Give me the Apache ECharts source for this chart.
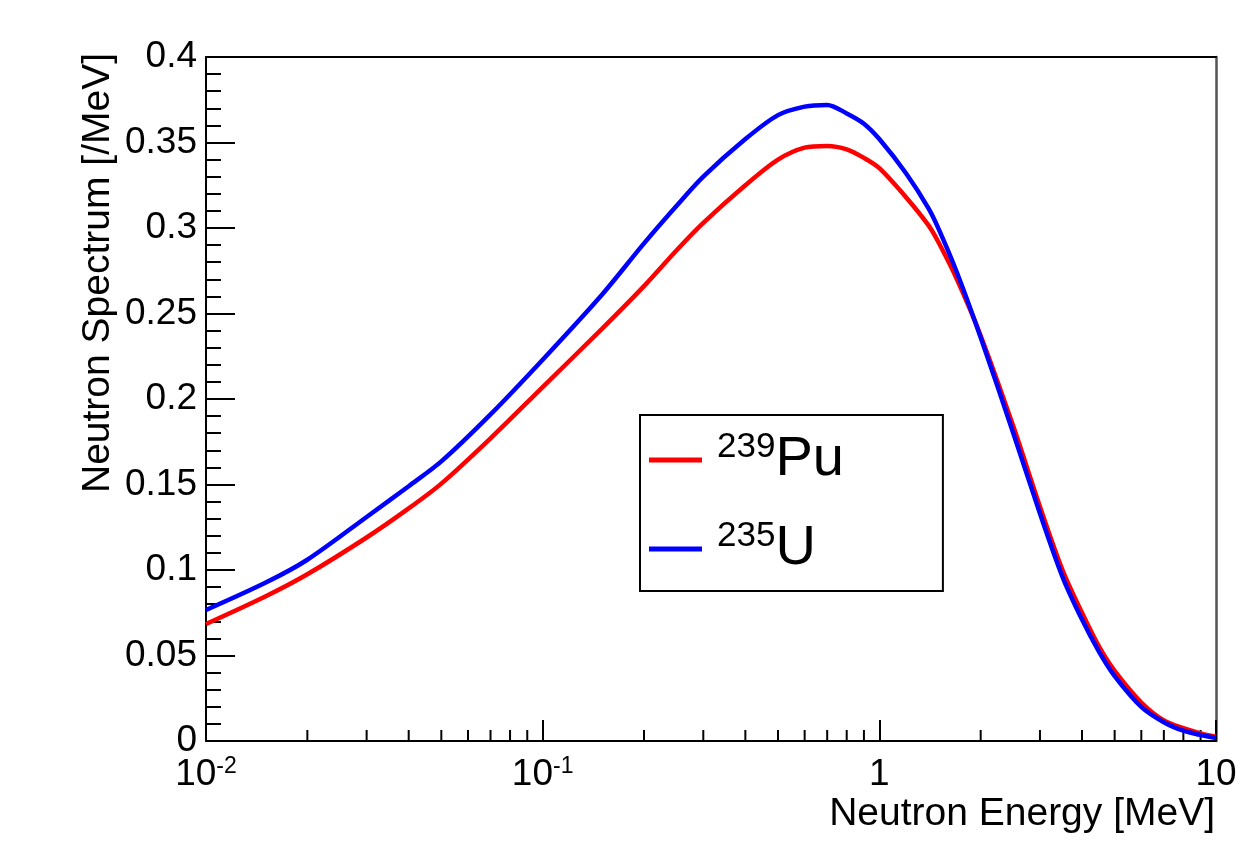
<!DOCTYPE html>
<html>
<head>
<meta charset="utf-8">
<script src="https://cdn.jsdelivr.net/npm/echarts@6/dist/echarts.min.js"></script>
<style>
html,body{margin:0;padding:0;background:#fff;}
#chart{width:1258px;height:858px;}
</style>
</head>
<body>
<div id="chart"></div>
<script>
// ---- data ----
const energy = [0.01, 0.015, 0.02, 0.03, 0.04, 0.05, 0.07, 0.1, 0.15, 0.2, 0.25, 0.3, 0.4, 0.5, 0.6, 0.7, 0.8, 0.9, 1, 1.2, 1.4, 1.5, 1.7, 2, 2.5, 3, 3.5, 4, 4.5, 5, 6, 7, 8, 9, 10];
const spectrumPu239 = [0.0684, 0.0845, 0.0975, 0.119, 0.136, 0.1505, 0.177, 0.207, 0.241, 0.266, 0.287, 0.303, 0.325, 0.340, 0.347, 0.348, 0.346, 0.341, 0.335, 0.318, 0.3015, 0.2915, 0.270, 0.237, 0.184, 0.137, 0.100, 0.075, 0.055, 0.041, 0.0225, 0.012, 0.0075, 0.0045, 0.0025];
const spectrumU235 = [0.0766, 0.0925, 0.106, 0.131, 0.149, 0.1635, 0.191, 0.223, 0.261, 0.291, 0.313, 0.330, 0.352, 0.366, 0.371, 0.372, 0.367, 0.361, 0.352, 0.332, 0.3115, 0.2995, 0.274, 0.236, 0.180, 0.133, 0.096, 0.071, 0.052, 0.038, 0.020, 0.011, 0.006, 0.0035, 0.0018];
const seriesNames = ['Pu239', 'U235'];
const legendSup = ['239', '235'];
const legendMain = ['Pu', 'U'];
const xMinorTicks = [0.02,0.03,0.04,0.05,0.06,0.07,0.08,0.09,0.2,0.3,0.4,0.5,0.6,0.7,0.8,0.9,2,3,4,5,6,7,8,9];
const xTitle = 'Neutron Energy [MeV]';
const yTitle = 'Neutron Spectrum [/MeV]';

const FONT = '"Liberation Sans", Arial, Helvetica, sans-serif';
const chart = echarts.init(document.getElementById('chart'), null, {renderer: 'canvas'});

function pairs(xs, ys) { return xs.map((x, i) => [x, ys[i]]); }

const option = {
  backgroundColor: '#ffffff',
  animation: false,
  grid: {left: 206, right: 42, top: 57, bottom: 117},
  xAxis: [{
    type: 'log', logBase: 10, min: 0.01, max: 10,
    axisLine: {show: true, onZero: false, lineStyle: {color: '#000', width: 2}},
    axisTick: {show: true, inside: true, length: 21, lineStyle: {color: '#000', width: 2}},
    splitLine: {show: false},
    axisLabel: {
      margin: 14,
      fontFamily: FONT, fontSize: 37, color: '#000',
      formatter: function (v) {
        const e = Math.round(Math.log10(v));
        if (e === 0) return '{b|1}';
        if (e === 1) return '{b|10}';
        return '{b|10}{s|' + e + '}';
      },
      rich: {
        b: {fontFamily: FONT, fontSize: 37, color: '#000', lineHeight: 40},
        s: {fontFamily: FONT, fontSize: 23, color: '#000', verticalAlign: 'top', lineHeight: 22}
      }
    }
  }, {
    type: 'log', logBase: 10, min: 0.01, max: 10, position: 'top',
    axisLine: {show: true, onZero: false, lineStyle: {color: '#000', width: 2}},
    axisTick: {show: false}, axisLabel: {show: false}, splitLine: {show: false}
  }],
  yAxis: [{
    type: 'value', min: 0, max: 0.4, interval: 0.05,
    axisLine: {show: true, onZero: false, lineStyle: {color: '#000', width: 2}},
    axisTick: {show: true, inside: true, length: 29, lineStyle: {color: '#000', width: 2}},
    minorTick: {show: true, splitNumber: 5, length: 15, lineStyle: {color: '#000', width: 2}},
    splitLine: {show: false},
    axisLabel: {
      margin: 9, fontFamily: FONT, fontSize: 37, color: '#000',
      formatter: function (v) { return String(+v.toFixed(2)); }
    }
  }, {
    type: 'value', min: 0, max: 0.4, position: 'right',
    axisLine: {show: true, onZero: false, lineStyle: {color: '#555', width: 2.5}},
    axisTick: {show: false}, axisLabel: {show: false}, splitLine: {show: false}
  }],
  legend: {
    data: seriesNames,
    orient: 'vertical', left: 640, top: 415,
    padding: [15, 99, 14, 9], itemGap: 31,
    itemWidth: 53, itemHeight: 5, icon: 'rect',
    borderColor: '#000', borderWidth: 2, backgroundColor: '#fff',
    formatter: function (name) {
      const i = seriesNames.indexOf(name);
      return '{sup|' + legendSup[i] + '}{main|' + legendMain[i] + '}';
    },
    textStyle: {
      padding: [0, 0, 0, 10],
      rich: {
        sup: {fontFamily: FONT, fontSize: 35, color: '#000', verticalAlign: 'top'},
        main: {fontFamily: FONT, fontSize: 56, color: '#000', lineHeight: 60, verticalAlign: 'middle'}
      }
    }
  },
  series: [{
    name: seriesNames[0], type: 'line', data: pairs(energy, spectrumPu239),
    smooth: 0.3, showSymbol: false, symbol: 'none',
    lineStyle: {color: '#ff0000', width: 4.5}, itemStyle: {color: '#ff0000'}, z: 3
  }, {
    name: seriesNames[1], type: 'line', data: pairs(energy, spectrumU235),
    smooth: 0.3, showSymbol: false, symbol: 'none',
    lineStyle: {color: '#0000ff', width: 4.5}, itemStyle: {color: '#0000ff'}, z: 4
  }, {
    name: 'xminor', type: 'custom', silent: true, z: 2,
    data: xMinorTicks.map(v => [v, 0]),
    renderItem: function (params, api) {
      const p = api.coord([api.value(0), 0]);
      return {type: 'line', shape: {x1: p[0], y1: p[1], x2: p[0], y2: p[1] - 11},
              style: {stroke: '#000', lineWidth: 2}};
    }
  }],
  graphic: [{
    type: 'text', x: 1215, y: 814,
    style: {text: xTitle, fontFamily: FONT, fontSize: 39, fill: '#000', align: 'right', verticalAlign: 'middle'}
  }, {
    type: 'text', x: 98, y: 53, rotation: Math.PI / 2,
    style: {text: yTitle, fontFamily: FONT, fontSize: 39, fill: '#000', align: 'right', verticalAlign: 'middle'}
  }]
};
chart.setOption(option);
</script>
</body>
</html>
